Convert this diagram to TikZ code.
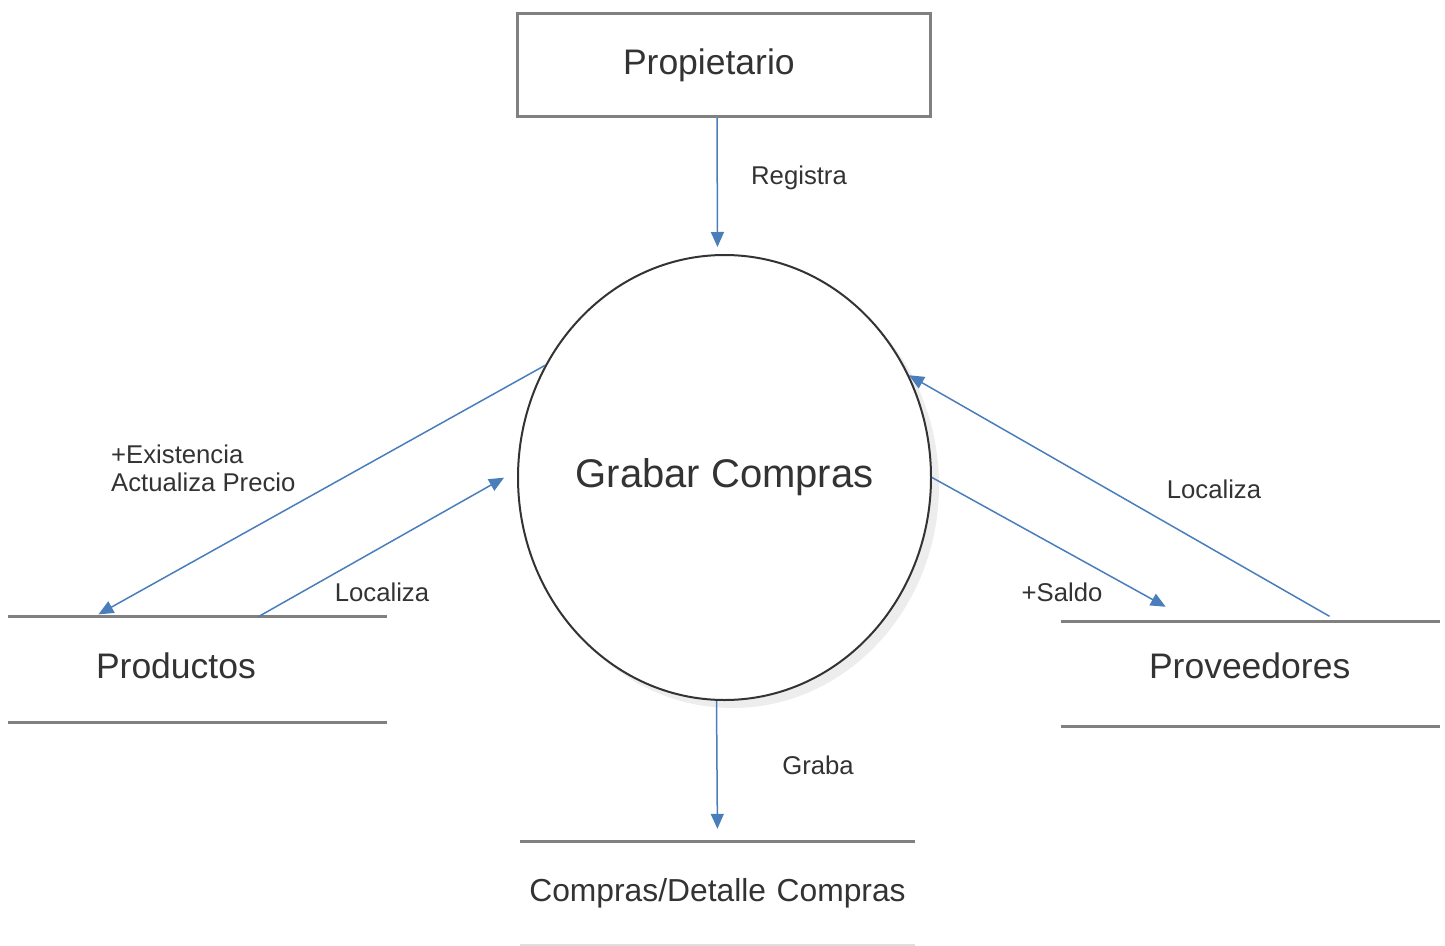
\documentclass[tikz,border=0pt]{standalone}
\usepackage{fontspec}
\setmainfont{Liberation Sans}
\usetikzlibrary{arrows.meta,shapes.geometric,shadows}
\definecolor{azul}{HTML}{4A7EBB}
\definecolor{gris}{HTML}{808080}
\definecolor{texto}{HTML}{333333}

\begin{document}
\begin{tikzpicture}[x=1pt,y=-1pt]
% definición de los estilos
\tikzstyle{entidad}=[rectangle,draw=gris,line width=3pt,minimum width=413pt,minimum height=103pt,inner xsep=105.5pt,text width=202pt,align=left,text=texto,font=\fontsize{35.5}{40}\selectfont]
\tikzstyle{proceso}=[ellipse,draw=black!80,line width=2pt,fill=white,minimum width=413pt,minimum height=445pt,inner xsep=-40pt,inner ysep=0pt,general shadow={fill=black!7,shadow xshift=8pt,shadow yshift=-8pt},text=texto,font=\fontsize{40}{44}\selectfont]
\tikzstyle{almacen}=[rectangle,minimum width=379pt,minimum height=105pt,inner xsep=88pt,inner ysep=0pt,text width=203pt,align=left,text=texto,font=\fontsize{35.5}{40}\selectfont]
\tikzstyle{borde}=[draw=gris,line width=3pt]
\tikzstyle{flujo}=[-{Triangle[length=15pt,width=13pt]},draw=azul,line width=1.5pt]
\tikzstyle{etiqueta}=[inner sep=0pt,text=texto,font=\fontsize{25.7}{28}\selectfont]
\useasboundingbox (0,0) rectangle (1445,945);
% los nodos
\node[entidad] (PR) at (724,65) {Propietario};
\node[proceso] (GC) at (724.5,477.5) {Grabar Compras};
\node[almacen,text depth=8pt] (PD) at (197.5,669.5) {Productos};
\node[almacen,text depth=16pt] (PV) at (1250.5,674) {Proveedores};
\node[almacen,minimum width=395pt,minimum height=103pt,inner xsep=0pt,text width=395pt,align=center,font=\fontsize{31.8}{36}\selectfont] (CD) at (717.5,893.5) {Compras/Detalle Compras};
% los almacenes
\draw[borde] (PD.north west) -- (PD.north east);
\draw[borde] (PD.south west) -- (PD.south east);
\draw[borde] (PV.north west) -- (PV.north east);
\draw[borde] (PV.south west) -- (PV.south east);
\draw[borde] (CD.north west) -- (CD.north east);
\draw[borde,draw=gris!25] (CD.south west) -- (CD.south east);
% los flujos
\draw[flujo,shorten >=7pt] ([xshift=-7pt]PR.south) -- ([xshift=-7pt]GC.north);
\draw[flujo,shorten >=5pt] (GC.148) -- (PD.153);
\draw[flujo,shorten >=15pt] (PD.41) -- (GC.178);
\draw[flujo,shorten >=30pt] (GC.east) -- (PV.138);
\draw[flujo,shorten <=10pt] (PV.31) -- (GC.29);
\draw[flujo,shorten >=13pt] ([xshift=-8pt]GC.south) -- (CD.north);
% las etiquetas
\node[etiqueta] (lReg) at (799,178) {Registra};
\node[etiqueta,align=left,anchor=west] (lExi) at (111,468) {+Existencia\\Actualiza Precio};
\node[etiqueta] (lLocPD) at (382,592) {Localiza};
\node[etiqueta] (lLocPV) at (1214,489) {Localiza};
\node[etiqueta] (lSal) at (1062,592) {+Saldo};
\node[etiqueta] (lGra) at (818,765) {Graba};
\end{tikzpicture}
\end{document}
